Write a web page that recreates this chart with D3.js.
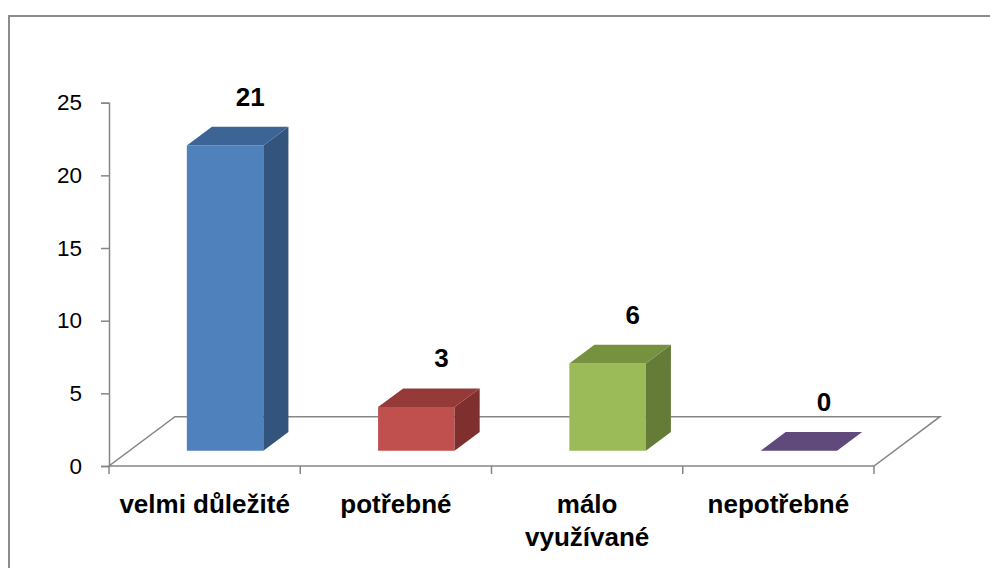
<!DOCTYPE html>
<html>
<head>
<meta charset="utf-8">
<script src="https://cdn.jsdelivr.net/npm/d3@7"></script>
<style>
  body { margin: 0; background: #fff; }
  svg { display: block; }
</style>
</head>
<body>
<script>
// chart data
const categories = ["velmi důležité", "potřebné", "málo využívané", "nepotřebné"];
const labelLines = [["velmi důležité"], ["potřebné"], ["málo", "využívané"], ["nepotřebné"]];
const values = [21, 3, 6, 0];
const yTicks = [0, 5, 10, 15, 20, 25];
const frontColors = ["#4F81BD", "#C0504D", "#9BBB59", "#8064A2"];
const topColors = ["#3C6595", "#953A38", "#77923F", "#604A7B"];
const sideColors = ["#33547D", "#7F302E", "#657B38", "#52406A"];

const width = 990;
const height = 568;

const svg = d3.select("body").append("svg")
    .attr("width", width)
    .attr("height", height);

// outer frame (runs off the page on the right and bottom)
svg.append("rect")
    .attr("x", 9).attr("y", 16)
    .attr("width", 1100).attr("height", 700)
    .attr("fill", "none")
    .attr("stroke", "#8c8c8c")
    .attr("stroke-width", 2);

const y = d3.scaleLinear().domain([0, 25]).range([466, 102.7]);
const x = d3.scaleBand().domain(categories).range([109, 874])
    .paddingInner(0.6).paddingOuter(0.3);
// depth: 0 = front of floor, 1 = back of floor
const dx = d3.scaleLinear().domain([0, 1]).range([0, 66]);
const dy = d3.scaleLinear().domain([0, 1]).range([0, -49.3]);

const zFront = 0.31, zBack = 0.69;
const gridColor = "#868686";

// floor outline
const x0 = x.range()[0], x1 = x.range()[1];
const floorPts = [[x0, y(0)], [x1, y(0)], [x1 + dx(1), y(0) + dy(1)], [x0 + dx(1), y(0) + dy(1)]];
svg.append("path")
    .attr("d", d3.line()(floorPts) + "Z")
    .attr("fill", "none")
    .attr("stroke", gridColor)
    .attr("stroke-width", 1.5);

// y axis
const yAxis = svg.append("g")
    .attr("transform", `translate(${x0},0)`)
    .call(d3.axisLeft(y).tickValues(yTicks).tickSize(8).tickPadding(19));
yAxis.select(".domain").attr("stroke", gridColor).attr("stroke-width", 1.5);
yAxis.selectAll(".tick line").attr("stroke", gridColor).attr("stroke-width", 1.5);
yAxis.selectAll(".tick text")
    .attr("font-family", "'Liberation Sans', Arial, sans-serif")
    .attr("font-size", "22.5px")
    .attr("fill", "#000");

// x axis ticks at band boundaries
const step = x.step();
const bounds = d3.range(categories.length + 1).map(i => x0 + i * step);
svg.selectAll(".xtick")
    .data(bounds)
    .enter()
    .append("line")
    .attr("class", "xtick")
    .attr("x1", d => d).attr("x2", d => d)
    .attr("y1", y(0)).attr("y2", y(0) + 8)
    .attr("stroke", gridColor)
    .attr("stroke-width", 1.5);

// bars
const bars = svg.selectAll(".bar")
    .data(values)
    .enter()
    .append("g")
    .attr("class", "bar");

bars.each(function (v, i) {
    const g = d3.select(this);
    const left = x(categories[i]);
    const right = left + x.bandwidth();
    const fx = dx(zFront), fy = dy(zFront);
    const bx = dx(zBack), by = dy(zBack);
    const yt = y(v), yb = y(0);
    // front face
    g.append("path")
        .attr("d", d3.line()([[left + fx, yt + fy], [right + fx, yt + fy], [right + fx, yb + fy], [left + fx, yb + fy]]) + "Z")
        .attr("fill", frontColors[i]);
    // side face
    g.append("path")
        .attr("d", d3.line()([[right + fx, yt + fy], [right + bx, yt + by], [right + bx, yb + by], [right + fx, yb + fy]]) + "Z")
        .attr("fill", sideColors[i]);
    // top face
    g.append("path")
        .attr("d", d3.line()([[left + fx, yt + fy], [left + bx, yt + by], [right + bx, yt + by], [right + fx, yt + fy]]) + "Z")
        .attr("fill", topColors[i]);
    // value label
    g.append("text")
        .attr("x", (left + right) / 2 + bx)
        .attr("y", yt + by - 21)
        .attr("text-anchor", "middle")
        .attr("font-family", "'Liberation Sans', Arial, sans-serif")
        .attr("font-weight", "bold")
        .attr("font-size", "26px")
        .text(v);
});

// category labels
svg.selectAll(".xlabel")
    .data(labelLines)
    .enter()
    .append("text")
    .attr("class", "xlabel")
    .attr("text-anchor", "middle")
    .attr("font-family", "'Liberation Sans', Arial, sans-serif")
    .attr("font-weight", "bold")
    .attr("font-size", "26px")
    .each(function (lines, i) {
        const cx = x(categories[i]) + x.bandwidth() / 2;
        d3.select(this).selectAll("tspan")
            .data(lines)
            .enter()
            .append("tspan")
            .attr("x", cx)
            .attr("y", (d, j) => 513 + j * 33)
            .text(d => d);
    });
</script>
</body>
</html>
